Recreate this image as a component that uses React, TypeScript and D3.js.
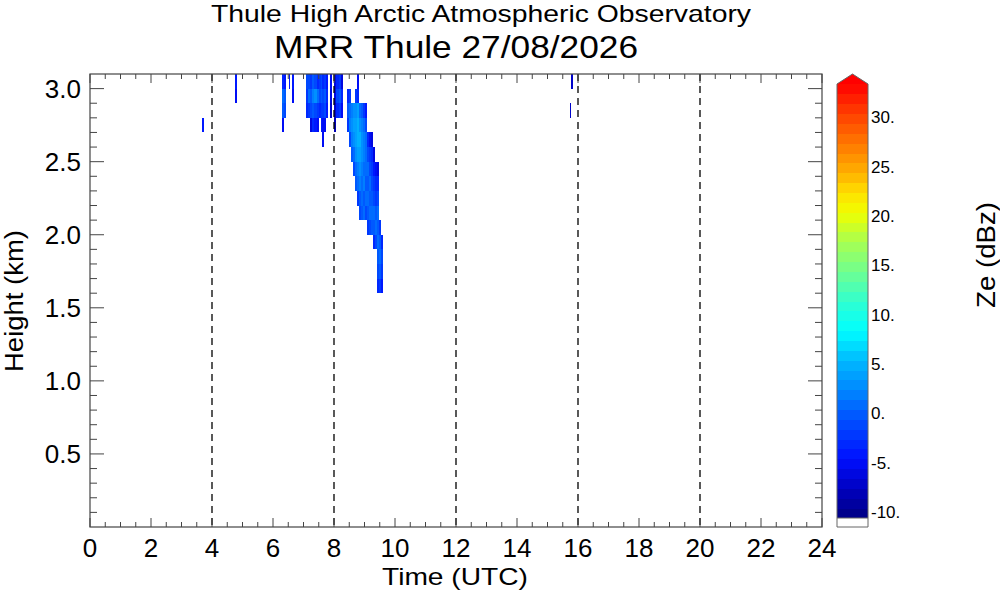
import React from "react";
import * as d3 from "d3";

// MRR profiles: start/end time (UTC hours), lowest gate (km), Ze per 100 m gate going up (dBZ)
const profileStart = [
  3.68, 4.77, 6.3, 6.36, 6.52, 6.62,
  7.07, 7.14, 7.21, 7.28, 7.36, 7.43, 7.5, 7.56, 7.62, 7.67, 7.74, 7.87, 8.0, 8.08, 8.15, 8.22,
  8.43, 8.495, 8.56, 8.625, 8.69, 8.755, 8.82, 8.885, 8.95, 9.015, 9.08, 9.145, 9.21, 9.275, 9.34, 9.405, 9.47, 9.535,
  15.74, 15.78,
];
const profileEnd = [
  3.74, 4.82, 6.36, 6.43, 6.56, 6.69,
  7.14, 7.21, 7.28, 7.36, 7.43, 7.5, 7.56, 7.62, 7.67, 7.74, 7.81, 7.92, 8.06, 8.15, 8.22, 8.29,
  8.495, 8.56, 8.625, 8.69, 8.755, 8.82, 8.885, 8.95, 9.015, 9.08, 9.145, 9.21, 9.275, 9.34, 9.405, 9.47, 9.535, 9.6,
  15.78, 15.83,
];
const profileBase = [
  2.7, 2.9, 2.7, 2.8, 3.0, 2.9,
  2.8, 2.8, 2.7, 2.7, 2.7, 2.7, 2.8, 2.7, 2.6, 2.7, 2.8, 2.8, 2.7, 2.8, 2.8, 2.8,
  2.7, 2.6, 2.5, 2.4, 2.3, 2.2, 2.1, 2.1, 2.1, 2.1, 2.0, 2.0, 2.0, 1.9, 1.9, 1.6, 1.6, 1.6,
  2.8, 3.0,
];
const profileZe = [
  [-4], [-5, -4], [-5, 0, 1, -3], [-1, 0, -4], [-4], [-5, -4],
  [-3, -2, -1], [-2, 1, -1], [-6, -1, 0, -2], [-3, 0, 2, 0], [-4, -1, 3, -1], [-5, -2, 1, -3],
  [-3, -1, -2], [-4, -2, 0, -1], [-5, -5, -2, -1, -3], [-5, -1, 0, -2], [-4, -3, -4],
  [-7, -6, -5], [-8, -7, -6, -6], [-3, -1, -3], [-2, 0, -2], [-5, -3, -6],
  [-2, 0, -3],
  [-1, 2, 1, -2],
  [0, 2, 3, 2],
  [-1, 1, 3, 4, 3],
  [0, 1, 3, 4, 4, 3, -2],
  [-2, 1, 2, 4, 5, 5, 4, -3, -5],
  [-1, 0, 2, 3, 4, 5, 3, 1],
  [0, 1, 1, 2, 3, 3, 2, 0],
  [1, 0, 2, 1, 2, 2, 1, -2],
  [-1, 1, 0, 1, 1, 1, -1, -4],
  [-2, 0, 1, 0, 1, -1, -3],
  [-1, 1, 0, 1, -1, -2, -5],
  [0, 1, 0, -1, -2, -3, -6],
  [-3, 0, 1, -1, -2, -4, -6],
  [-1, 1, 0, -2, -3, -5],
  [-3, -1, 0, 1, 0, 1, -1, -3, -6],
  [-2, 0, 1, 0, -2],
  [-4, -2, -1, -3],
  [-7], [-7],
];
const GATE = 0.1;

const timeTicks = [0, 2, 4, 6, 8, 10, 12, 14, 16, 18, 20, 22, 24];
const heightTicks = [0.5, 1.0, 1.5, 2.0, 2.5, 3.0];
const guideHours = [4, 8, 12, 16, 20];
const zeTicks = [-10, -5, 0, 5, 10, 15, 20, 25, 30];
const zeMin = -10;
const zeMax = 34;

const colorStops = [-10, -7, -4, 0, 3, 6, 9, 12, 15, 18, 21, 23, 25, 28, 31, 34];
const colorValues = [
  "#000080", "#0000c0", "#0010ff", "#0050ff", "#0088ff", "#00b8ff", "#00ffff", "#30ffd0",
  "#70ff90", "#a8ff50", "#f0ff00", "#ffe000", "#ffb000", "#ff7800", "#ff4000", "#ff0000",
];

const font = "'Liberation Sans', Arial, Helvetica, sans-serif";

const App = () => {
  const width = 1000;
  const height = 592;
  const x = d3.scaleLinear().domain([0, 24]).range([90, 822]);
  const y = d3.scaleLinear().domain([0, 3.1]).range([527, 74]);
  const cb = d3.scaleLinear().domain([zeMin, zeMax]).range([518, 84]);
  const ramp = d3
    .scaleLinear<string>()
    .domain(colorStops)
    .range(colorValues)
    .interpolate(d3.interpolateRgb)
    .clamp(true);
  // discrete 1 dBZ levels like the colour bar
  const color = (v: number) => ramp(Math.floor(v) + 0.5);

  const cells: any[] = [];
  profileZe.forEach((zes, i) => {
    zes.forEach((ze, k) => {
      const h0 = profileBase[i] + k * GATE;
      cells.push({ t0: profileStart[i], t1: profileEnd[i], h0, h1: h0 + GATE, ze });
    });
  });

  const minorX = d3.range(0, 24.01, 0.5);
  const minorY = d3.range(0.1, 3.05, 0.1);
  const levels = d3.range(zeMin, zeMax);
  const axisColor = "#444";
  const cbLeft = 837;
  const cbRight = 868;

  return (
    <svg
      width={width}
      height={height}
      style={{ position: "absolute", left: 0, top: 0, background: "#fff" }}
      fontFamily={font}
    >
      <rect width={width} height={height} fill="#fff" />
      <text x={481} y={22} textAnchor="middle" fontSize={24} textLength={540} lengthAdjust="spacingAndGlyphs">
        Thule High Arctic Atmospheric Observatory
      </text>
      <text x={456} y={58} textAnchor="middle" fontSize={32} textLength={364} lengthAdjust="spacingAndGlyphs">
        MRR Thule 27/08/2026
      </text>

      {/* radar echoes */}
      <g>
        {cells.map((c, i) => (
          <rect
            key={i}
            x={x(c.t0)}
            y={y(c.h1)}
            width={x(c.t1) - x(c.t0)}
            height={y(c.h0) - y(c.h1)}
            fill={color(c.ze)}
            shapeRendering="crispEdges"
          />
        ))}
      </g>

      {guideHours.map((h) => (
        <line
          key={h}
          x1={x(h)}
          x2={x(h)}
          y1={y(3.1)}
          y2={y(0)}
          stroke="#000"
          strokeWidth={1.3}
          strokeDasharray="7,5"
        />
      ))}

      {/* frame and ticks */}
      <rect x={90} y={74} width={732} height={453} fill="none" stroke={axisColor} strokeWidth={1.2} />
      {minorX.map((t) => {
        const len = t % 2 === 0 ? 9 : 5;
        return (
          <g key={t} stroke={axisColor} strokeWidth={1}>
            <line x1={x(t)} x2={x(t)} y1={527} y2={527 - len} />
            <line x1={x(t)} x2={x(t)} y1={74} y2={74 + len} />
          </g>
        );
      })}
      {minorY.map((h) => {
        const major = Math.abs(h * 2 - Math.round(h * 2)) < 1e-6;
        const len = major ? 14 : 7;
        return (
          <g key={h} stroke={axisColor} strokeWidth={1}>
            <line x1={90} x2={90 + len} y1={y(h)} y2={y(h)} />
            <line x1={822} x2={822 - len} y1={y(h)} y2={y(h)} />
          </g>
        );
      })}

      {timeTicks.map((t) => (
        <text key={t} x={x(t)} y={557} textAnchor="middle" fontSize={26}>
          {t}
        </text>
      ))}
      {heightTicks.map((h) => (
        <text key={h} x={81} y={y(h) + 9} textAnchor="end" fontSize={26}>
          {h.toFixed(1)}
        </text>
      ))}
      <text x={455} y={585} textAnchor="middle" fontSize={24} textLength={146} lengthAdjust="spacingAndGlyphs">
        Time (UTC)
      </text>
      <text
        transform={`translate(23 301) rotate(-90)`}
        textAnchor="middle"
        fontSize={26}
        textLength={142}
        lengthAdjust="spacingAndGlyphs"
      >
        Height (km)
      </text>

      {/* colour bar */}
      <g>
        {levels.map((v) => (
          <rect
            key={v}
            x={cbLeft}
            y={cb(v + 1)}
            width={cbRight - cbLeft}
            height={cb(v) - cb(v + 1) + 0.5}
            fill={color(v)}
            shapeRendering="crispEdges"
          />
        ))}
        <path
          d={`M${cbLeft},${cb(zeMax)} L${(cbLeft + cbRight) / 2},${cb(zeMax) - 10} L${cbRight},${cb(zeMax)} Z`}
          fill={color(zeMax)}
        />
        <rect x={cbLeft} y={518} width={cbRight - cbLeft} height={9} fill="#fff" />
        <path
          d={`M${cbLeft},527 L${cbLeft},${cb(zeMax)} L${(cbLeft + cbRight) / 2},${cb(zeMax) - 10} L${cbRight},${cb(zeMax)} L${cbRight},527 Z`}
          fill="none"
          stroke="#666"
          strokeWidth={1}
        />
        <line x1={cbLeft} x2={cbRight} y1={518} y2={518} stroke="#666" strokeWidth={1} />
        {zeTicks.map((v) => (
          <text key={v} x={871} y={cb(v)} fontSize={17}>
            {v}.
          </text>
        ))}
      </g>
      <text
        transform={`translate(995 255) rotate(-90)`}
        textAnchor="middle"
        fontSize={25}
        textLength={106}
        lengthAdjust="spacingAndGlyphs"
      >
        Ze (dBz)
      </text>
    </svg>
  );
};

export default App;
